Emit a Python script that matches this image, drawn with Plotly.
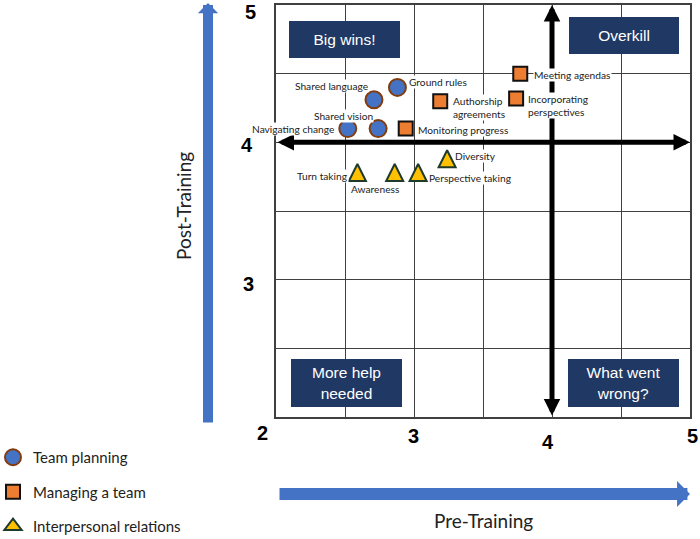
import plotly.graph_objects as go

# ---------------- data ----------------
series_names = ["Team planning", "Managing a team", "Interpersonal relations"]

tp_labels = ["Team charters", "Navigating change", "Shared vision", "Shared language", "Ground rules"]
tp_x = [1.90, 2.52, 2.74, 2.71, 2.88]
tp_y = [3.89, 4.10, 4.10, 4.31, 4.40]

mt_labels = ["Monitoring progress", "Authorship<br>agreements", "Meeting agendas", "Incorporating<br>perspectives"]
mt_x = [2.94, 3.19, 3.77, 3.74]
mt_y = [4.10, 4.30, 4.50, 4.32]

ir_labels = ["Turn taking", "Awareness", "Perspective taking", "Diversity"]
ir_x = [2.59, 2.86, 3.03, 3.24]
ir_y = [3.78, 3.78, 3.78, 3.88]

x_tick_labels = [2, 3, 4, 5]
y_tick_labels = [3, 4, 5]
axis_range = [2, 5]
threshold_x = 4
threshold_y = 4

quadrants = ["Big wins!", "Overkill", "More help<br>needed", "What went<br>wrong?"]

# ---------------- styling / layout ----------------
W, H = 700, 539
ML, MR, MT, MB = 276, 10, 5, 122
PW, PH = W - ML - MR, H - MT - MB


def px(p):
    return (p - ML) / PW


def py(p):
    return (H - MB - p) / PH


label_font = dict(family="Lato", size=10.2, color="#222222")

# (xanchor, xshift, yshift) per label
tp_off = [("left", 15, 0), ("right", -13, 0), ("center", -35, 13), ("center", -42, 14), ("left", 11, 5)]
mt_off = [("left", 11, -1), ("left", 12, -6), ("left", 13, -1), ("left", 11, -7)]
ir_off = [("right", -8, -3), ("center", -19, -16), ("left", 10, -5), ("left", 7, 3)]

TRI = 17
TRI_FILL, TRI_LINE = "#FFC000", "#1E3A2A"

fig = go.Figure()

fig.add_trace(go.Scatter(
    x=tp_x, y=tp_y, mode="markers", name=series_names[0], legendgroup="a",
    marker=dict(symbol="circle", size=17, color="#4472C4", line=dict(color="#843C0C", width=2)),
    cliponaxis=False, hoverinfo="skip"))
fig.add_trace(go.Scatter(
    x=mt_x, y=mt_y, mode="markers", name=series_names[1], legendgroup="b",
    marker=dict(symbol="square", size=14, color="#ED7D31", line=dict(color="#111111", width=2)),
    cliponaxis=False, hoverinfo="skip"))
# tall, centred upward triangle (arrow-down rotated, shifted by half its size)
fig.add_trace(go.Scatter(
    x=ir_x, y=ir_y, mode="markers", name=series_names[2], legendgroup="c", showlegend=False,
    marker=dict(symbol="arrow-down", angle=180, standoff=TRI / 2, size=TRI, color=TRI_FILL,
                line=dict(color=TRI_LINE, width=2)),
    cliponaxis=False, hoverinfo="skip"))
# legend entry for the triangles
fig.add_trace(go.Scatter(
    x=[None], y=[None], mode="markers", name=series_names[2], legendgroup="c",
    marker=dict(symbol="triangle-up", size=15, color=TRI_FILL, line=dict(color=TRI_LINE, width=2)),
    hoverinfo="skip"))

ann = []

# threshold arrows (black, double headed)
ann.append(dict(x=axis_range[1], y=threshold_y, ax=axis_range[0], ay=threshold_y,
                xref="x", yref="y", axref="x", ayref="y", text="", showarrow=True,
                arrowside="end+start", arrowhead=2, startarrowhead=2,
                arrowsize=0.66, startarrowsize=0.66, arrowwidth=5, arrowcolor="#000000"))
ann.append(dict(x=threshold_x, y=axis_range[1], ax=threshold_x, ay=axis_range[0],
                xref="x", yref="y", axref="x", ayref="y", text="", showarrow=True,
                arrowside="end+start", arrowhead=2, startarrowhead=2,
                arrowsize=0.66, startarrowsize=0.66, arrowwidth=5, arrowcolor="#000000"))

# blue direction arrows
ann.append(dict(x=px(208), y=py(3), xref="paper", yref="paper", ax=0, ay=421,
                text="", showarrow=True, arrowhead=1, arrowsize=0.34, arrowwidth=10,
                arrowcolor="#4472C4"))
ann.append(dict(x=px(690), y=py(494), xref="paper", yref="paper", ax=-412, ay=0,
                text="", showarrow=True, arrowhead=1, arrowsize=0.36, arrowwidth=12,
                arrowcolor="#4472C4"))

# quadrant boxes
quad_pos = [(344.5, 39.5, 111, 37), (624, 35.5, 110, 37), (346.5, 383, 111, 48), (623.5, 383, 111, 48)]
for t, (cx, cy, w, h) in zip(quadrants, quad_pos):
    ann.append(dict(x=px(cx), y=py(cy), xref="paper", yref="paper", text=t, showarrow=False,
                    width=w, height=h, bgcolor="#203864", borderpad=0, borderwidth=0,
                    xanchor="center", yanchor="middle", align="center",
                    font=dict(family="Liberation Sans", size=15.5, color="white")))

# data labels
for labels, xs, ys, offs in [(tp_labels, tp_x, tp_y, tp_off), (mt_labels, mt_x, mt_y, mt_off),
                             (ir_labels, ir_x, ir_y, ir_off)]:
    for lab, x, y, (xa, xs_, ys_) in zip(labels, xs, ys, offs):
        ann.append(dict(x=x, y=y, xref="x", yref="y", text=lab, showarrow=False,
                        xanchor=xa, yanchor="middle", xshift=xs_, yshift=ys_, align="left",
                        bgcolor="white", borderpad=0, font=label_font))

# tick labels
tick_font = dict(family="Liberation Sans", size=20, color="black")
x_tick_pos = [(-14, 433), (-1, 436), (-4, 442), (2, 436)]
for v, (sh, yy) in zip(x_tick_labels, x_tick_pos):
    ann.append(dict(x=v, y=py(yy), xref="x", yref="paper", text=f"<b>{v}</b>", showarrow=False,
                    xshift=sh, xanchor="center", yanchor="middle", font=tick_font))
y_tick_pos = [(248, -4), (247, -3), (250, -7)]
for v, (xx, sh) in zip(y_tick_labels, y_tick_pos):
    ann.append(dict(x=px(xx), y=v, xref="paper", yref="y", text=f"<b>{v}</b>", showarrow=False,
                    yshift=sh, xanchor="center", yanchor="middle", font=tick_font))

# axis titles
title_font = dict(family="Lato", size=19, color="#222222")
ann.append(dict(x=px(183), y=py(206), xref="paper", yref="paper", text="Post-Training",
                textangle=-90, showarrow=False, xanchor="center", yanchor="middle", font=title_font))
ann.append(dict(x=px(483), y=py(520), xref="paper", yref="paper", text="Pre-Training",
                showarrow=False, xanchor="center", yanchor="middle", font=title_font))

axis_common = dict(range=axis_range, dtick=0.5, tick0=2, showgrid=True, gridcolor="#404040",
                   gridwidth=1, showline=True, linecolor="#404040", linewidth=1.5, mirror=True,
                   zeroline=False, showticklabels=False, ticks="", fixedrange=True)

fig.update_layout(
    width=W, height=H,
    margin=dict(l=ML, r=MR, t=MT, b=MB, autoexpand=False),
    paper_bgcolor="white", plot_bgcolor="white",
    xaxis=axis_common, yaxis=axis_common,
    annotations=ann,
    showlegend=True,
    legend=dict(x=px(-7), y=py(441), xanchor="left", yanchor="top", bgcolor="rgba(0,0,0,0)",
                font=dict(family="Lato", size=15, color="#222222"), tracegroupgap=12,
                itemsizing="trace"),
)

fig.write_html("out.html", config={"displayModeBar": False},
               post_script="document.body.style.margin='0';document.body.style.overflow='hidden';")
